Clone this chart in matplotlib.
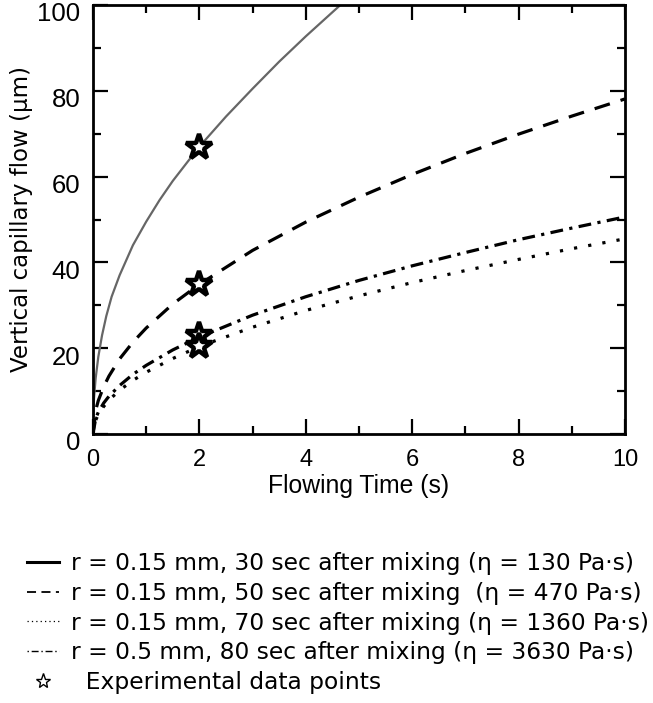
import matplotlib
matplotlib.use("Agg")
import matplotlib.pyplot as plt
import matplotlib.transforms as mtransforms
from matplotlib.lines import Line2D

plt.rcParams['font.family'] = ['Liberation Sans', 'DejaVu Sans']

# curves
t_solid = [0, 0.01, 0.02, 0.05, 0.1, 0.17, 0.25, 0.35, 0.5, 0.75, 1, 1.25, 1.5, 2, 2.5, 3, 3.5, 4, 4.65, 4.8]
y_solid = [0, 6.0, 8.5, 13.0, 18.0, 23.0, 27.5, 32.0, 37.0, 44.0, 49.5, 54.5, 59.0, 67.0, 74.0, 80.5, 86.8, 92.7, 100.0, 101.6]

t_curve = [0, 0.05, 0.1, 0.2, 0.3, 0.5, 0.75, 1, 1.5, 2, 3, 4, 5, 6, 7, 8, 9, 10]
y_dash = [0, 5.5, 7.8, 11.0, 13.5, 17.5, 21.4, 24.7, 30.3, 34.9, 42.8, 49.4, 55.2, 60.5, 65.4, 69.9, 74.1, 78.1]
y_dashdot = [0, 3.6, 5.1, 7.2, 8.8, 11.3, 13.9, 16.0, 19.6, 22.6, 27.7, 32.0, 35.8, 39.2, 42.3, 45.3, 48.0, 50.6]
y_dot = [0, 3.2, 4.6, 6.4, 7.9, 10.2, 12.5, 14.4, 17.6, 20.4, 24.9, 28.8, 32.2, 35.3, 38.1, 40.7, 43.2, 45.5]

t_exp = [2, 2, 2, 2]
y_exp = [67, 35, 23, 20.5]

labels = [
    "r = 0.15 mm, 30 sec after mixing (\u03b7 = 130 Pa\u00b7s)",
    "r = 0.15 mm, 50 sec after mixing  (\u03b7 = 470 Pa\u00b7s)",
    "r = 0.15 mm, 70 sec after mixing (\u03b7 = 1360 Pa\u00b7s)",
    "r = 0.5 mm, 80 sec after mixing (\u03b7 = 3630 Pa\u00b7s)",
    "  Experimental data points",
]

fig = plt.figure(figsize=(6.53, 7.03), dpi=100)
ax = fig.add_axes([93 / 653, 1 - 434 / 703, 532 / 653, 429 / 703])

ax.plot(t_solid, y_solid, color='#666666', lw=1.6)
ax.plot(t_curve, y_dash, color='k', lw=2.3, linestyle=(0, (5, 3.5)))
ax.plot(t_curve, y_dashdot, color='k', lw=2.3, linestyle=(0, (4, 2, 1, 2)))
ax.plot(t_curve, y_dot, color='k', lw=2.3, linestyle=(0, (1, 3.5)))
ax.plot(t_exp, y_exp, linestyle='none', marker='*', markersize=19,
        markerfacecolor='white', markeredgecolor='k', markeredgewidth=3.2, zorder=5)

ax.set_xlim(0, 10)
ax.set_ylim(0, 100)
ax.set_xticks([0, 2, 4, 6, 8, 10])
ax.set_yticks([0, 20, 40, 60, 80, 100])
ax.set_xticks([1, 3, 5, 7, 9], minor=True)
ax.set_yticks([10, 30, 50, 70, 90], minor=True)
ax.tick_params(which='both', direction='in', top=True, right=True, width=1.6)
ax.tick_params(which='major', length=11)
ax.tick_params(which='minor', length=5.5)
ax.tick_params(axis='x', which='major', labelsize=17, pad=11)
ax.tick_params(axis='y', which='major', labelsize=18.5, pad=9)
for s in ax.spines.values():
    s.set_linewidth(2)

# y tick labels sit a little below their ticks in the original
off = mtransforms.ScaledTranslation(0, -5 / 72, fig.dpi_scale_trans)
for lab in ax.get_yticklabels():
    lab.set_transform(lab.get_transform() + off)

ax.set_xlabel("Flowing Time (s)", fontsize=17.8, labelpad=2)
ax.set_ylabel("Vertical capillary flow (\u03bcm)", fontsize=16.5, family='DejaVu Sans', labelpad=3)

handles = [
    Line2D([], [], color='k', lw=2.2),
    Line2D([], [], color='k', lw=1.3, linestyle=(0, (5, 3))),
    Line2D([], [], color='k', lw=0.9, linestyle=(0, (1, 2.5))),
    Line2D([], [], color='k', lw=1, linestyle=(0, (1, 2, 5, 2))),
    Line2D([], [], linestyle='none', marker='*', markersize=11,
           markerfacecolor='white', markeredgecolor='k', markeredgewidth=1),
]
fig.legend(handles, labels, loc='upper left', bbox_to_anchor=(27 / 653, 1 - 552 / 703),
           frameon=False, prop={'family': 'DejaVu Sans', 'size': 16.8},
           handlelength=1.35, handletextpad=0.55,
           labelspacing=0.29, borderaxespad=0, borderpad=0)

fig.savefig("out.png", dpi=100)
